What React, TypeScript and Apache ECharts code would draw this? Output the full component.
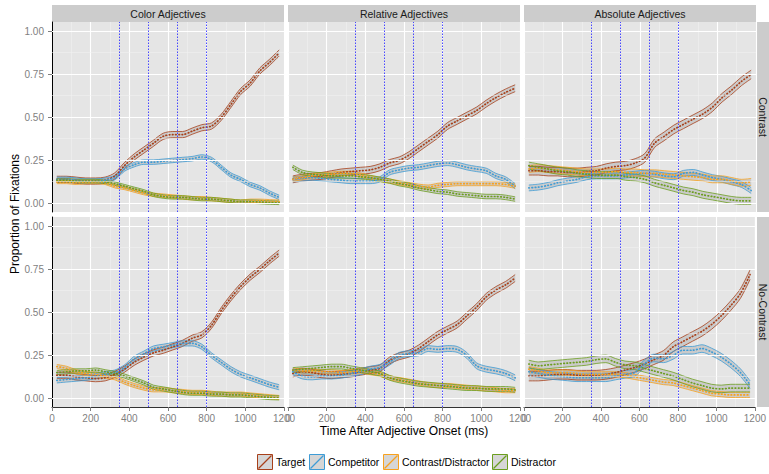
import React, { useEffect, useRef } from 'react';
import * as echarts from 'echarts';

const TIME = [25, 75, 125, 175, 225, 275, 325, 375, 425, 475, 525, 575, 625, 675, 725, 775, 825, 875, 925, 975, 1025, 1075, 1125, 1175];
const GROUPS = ['Target', 'Competitor', 'Contrast/Distractor', 'Distractor'];
const COLORS = ['#A8401A', '#3E9CD6', '#F8A21E', '#6C9E1F'];
const ADJECTIVES = ['Color Adjectives', 'Relative Adjectives', 'Absolute Adjectives'];
const CONDITIONS = ['Contrast', 'No-Contrast'];
const Y_TICKS = [0, 0.25, 0.5, 0.75, 1];
const Y_MINOR = [0.125, 0.375, 0.625, 0.875];
const WINDOW_LINES = [350, 500, 650, 800];

// Color Adjectives / Contrast
const colorContrastTarget = [0.14, 0.14, 0.135, 0.13, 0.13, 0.135, 0.16, 0.22, 0.27, 0.31, 0.35, 0.39, 0.40, 0.40, 0.42, 0.44, 0.45, 0.50, 0.575, 0.65, 0.70, 0.77, 0.82, 0.875];
const colorContrastCompetitor = [0.14, 0.14, 0.135, 0.13, 0.13, 0.135, 0.15, 0.20, 0.225, 0.24, 0.24, 0.245, 0.25, 0.255, 0.26, 0.27, 0.255, 0.21, 0.165, 0.14, 0.11, 0.09, 0.06, 0.035];
const colorContrastContrastDistractor = [0.125, 0.125, 0.12, 0.125, 0.125, 0.12, 0.10, 0.09, 0.075, 0.06, 0.05, 0.045, 0.04, 0.035, 0.03, 0.03, 0.025, 0.02, 0.015, 0.01, 0.015, 0.015, 0.012, 0.01];
const colorContrastDistractor = [0.135, 0.135, 0.13, 0.13, 0.13, 0.125, 0.115, 0.10, 0.085, 0.07, 0.05, 0.04, 0.035, 0.035, 0.03, 0.025, 0.025, 0.02, 0.015, 0.01, 0.01, 0.008, 0.005, 0.003];
const colorContrastSE = [0.018, 0.013, 0.01, 0.01];

// Relative Adjectives / Contrast
const relativeContrastTarget = [0.14, 0.15, 0.155, 0.16, 0.17, 0.18, 0.185, 0.19, 0.195, 0.21, 0.235, 0.25, 0.28, 0.32, 0.36, 0.40, 0.45, 0.48, 0.51, 0.54, 0.58, 0.615, 0.645, 0.67];
const relativeContrastCompetitor = [0.14, 0.145, 0.15, 0.145, 0.14, 0.135, 0.13, 0.13, 0.13, 0.14, 0.18, 0.195, 0.205, 0.21, 0.22, 0.23, 0.235, 0.225, 0.21, 0.20, 0.19, 0.16, 0.14, 0.10];
const relativeContrastContrastDistractor = [0.14, 0.15, 0.16, 0.165, 0.17, 0.175, 0.175, 0.165, 0.15, 0.14, 0.13, 0.12, 0.11, 0.10, 0.095, 0.105, 0.11, 0.115, 0.115, 0.115, 0.115, 0.115, 0.11, 0.10];
const relativeContrastDistractor = [0.21, 0.18, 0.17, 0.165, 0.16, 0.16, 0.16, 0.155, 0.15, 0.14, 0.13, 0.115, 0.105, 0.09, 0.08, 0.07, 0.065, 0.055, 0.05, 0.045, 0.04, 0.04, 0.035, 0.025];
const relativeContrastSE = [0.02, 0.015, 0.012, 0.013];

// Absolute Adjectives / Contrast
const absoluteContrastTarget = [0.19, 0.19, 0.185, 0.185, 0.18, 0.18, 0.185, 0.19, 0.205, 0.215, 0.22, 0.235, 0.265, 0.35, 0.39, 0.43, 0.46, 0.49, 0.52, 0.56, 0.615, 0.66, 0.71, 0.75];
const absoluteContrastCompetitor = [0.09, 0.095, 0.105, 0.12, 0.13, 0.14, 0.155, 0.16, 0.16, 0.16, 0.165, 0.17, 0.175, 0.17, 0.16, 0.155, 0.175, 0.18, 0.165, 0.15, 0.14, 0.125, 0.11, 0.075];
const absoluteContrastContrastDistractor = [0.20, 0.205, 0.20, 0.195, 0.19, 0.185, 0.18, 0.18, 0.18, 0.185, 0.18, 0.18, 0.175, 0.175, 0.17, 0.165, 0.16, 0.155, 0.15, 0.14, 0.14, 0.13, 0.12, 0.125];
const absoluteContrastDistractor = [0.22, 0.21, 0.20, 0.19, 0.185, 0.175, 0.17, 0.165, 0.165, 0.165, 0.155, 0.15, 0.14, 0.12, 0.105, 0.09, 0.075, 0.065, 0.05, 0.04, 0.03, 0.02, 0.015, 0.015];
const absoluteContrastSE = [0.025, 0.017, 0.02, 0.02];

// Color Adjectives / No-Contrast
const colorNoContrastTarget = [0.135, 0.135, 0.125, 0.12, 0.115, 0.12, 0.14, 0.17, 0.21, 0.24, 0.265, 0.28, 0.30, 0.32, 0.35, 0.37, 0.425, 0.51, 0.585, 0.65, 0.705, 0.75, 0.80, 0.845];
const colorNoContrastCompetitor = [0.105, 0.11, 0.115, 0.12, 0.13, 0.14, 0.15, 0.18, 0.23, 0.26, 0.29, 0.30, 0.31, 0.32, 0.32, 0.30, 0.25, 0.21, 0.17, 0.14, 0.12, 0.10, 0.08, 0.065];
const colorNoContrastContrastDistractor = [0.185, 0.175, 0.155, 0.145, 0.14, 0.13, 0.12, 0.095, 0.075, 0.06, 0.05, 0.05, 0.045, 0.04, 0.035, 0.035, 0.03, 0.025, 0.025, 0.025, 0.02, 0.015, 0.01, 0.005];
const colorNoContrastDistractor = [0.15, 0.155, 0.16, 0.16, 0.165, 0.155, 0.145, 0.13, 0.11, 0.09, 0.065, 0.055, 0.045, 0.035, 0.03, 0.03, 0.025, 0.025, 0.02, 0.02, 0.015, 0.01, 0.005, 0.003];
const colorNoContrastSE = [0.018, 0.015, 0.012, 0.012];

// Relative Adjectives / No-Contrast
const relativeNoContrastTarget = [0.145, 0.155, 0.15, 0.14, 0.135, 0.14, 0.145, 0.155, 0.165, 0.175, 0.22, 0.245, 0.26, 0.29, 0.33, 0.37, 0.40, 0.43, 0.48, 0.53, 0.59, 0.63, 0.66, 0.70];
const relativeNoContrastCompetitor = [0.155, 0.13, 0.125, 0.13, 0.13, 0.135, 0.145, 0.155, 0.17, 0.18, 0.21, 0.25, 0.26, 0.265, 0.29, 0.285, 0.29, 0.285, 0.25, 0.19, 0.17, 0.16, 0.145, 0.12];
const relativeNoContrastContrastDistractor = [0.165, 0.16, 0.16, 0.155, 0.155, 0.15, 0.155, 0.16, 0.15, 0.14, 0.12, 0.11, 0.10, 0.09, 0.08, 0.075, 0.075, 0.07, 0.065, 0.06, 0.055, 0.05, 0.045, 0.045];
const relativeNoContrastDistractor = [0.165, 0.17, 0.175, 0.18, 0.185, 0.185, 0.175, 0.165, 0.155, 0.145, 0.12, 0.105, 0.095, 0.085, 0.08, 0.075, 0.07, 0.065, 0.06, 0.06, 0.055, 0.055, 0.055, 0.05];
const relativeNoContrastSE = [0.02, 0.017, 0.012, 0.014];

// Absolute Adjectives / No-Contrast
const absoluteNoContrastTarget = [0.13, 0.13, 0.135, 0.14, 0.14, 0.135, 0.135, 0.135, 0.14, 0.15, 0.165, 0.18, 0.20, 0.225, 0.25, 0.30, 0.33, 0.36, 0.39, 0.43, 0.48, 0.54, 0.61, 0.72];
const absoluteNoContrastCompetitor = [0.155, 0.145, 0.135, 0.13, 0.125, 0.12, 0.12, 0.12, 0.12, 0.13, 0.14, 0.15, 0.20, 0.235, 0.23, 0.25, 0.28, 0.28, 0.29, 0.27, 0.24, 0.20, 0.15, 0.08];
const absoluteNoContrastContrastDistractor = [0.17, 0.16, 0.15, 0.15, 0.15, 0.145, 0.14, 0.14, 0.14, 0.14, 0.135, 0.125, 0.115, 0.105, 0.095, 0.09, 0.075, 0.06, 0.045, 0.03, 0.025, 0.02, 0.02, 0.02];
const absoluteNoContrastDistractor = [0.20, 0.19, 0.195, 0.20, 0.205, 0.21, 0.215, 0.225, 0.23, 0.21, 0.195, 0.19, 0.175, 0.16, 0.145, 0.13, 0.11, 0.09, 0.075, 0.06, 0.055, 0.06, 0.06, 0.06];
const absoluteNoContrastSE = [0.028, 0.022, 0.015, 0.022];

const FONT = '"Liberation Sans", Arial, Helvetica, sans-serif';

export default function App() {
  const ref = useRef<HTMLDivElement>(null);

  useEffect(() => {
    if (!ref.current) return;
    const chart = echarts.init(ref.current, undefined, { renderer: 'svg' });

    const panels = [
      { adj: 0, cond: 0, means: [colorContrastTarget, colorContrastCompetitor, colorContrastContrastDistractor, colorContrastDistractor], se: colorContrastSE },
      { adj: 1, cond: 0, means: [relativeContrastTarget, relativeContrastCompetitor, relativeContrastContrastDistractor, relativeContrastDistractor], se: relativeContrastSE },
      { adj: 2, cond: 0, means: [absoluteContrastTarget, absoluteContrastCompetitor, absoluteContrastContrastDistractor, absoluteContrastDistractor], se: absoluteContrastSE },
      { adj: 0, cond: 1, means: [colorNoContrastTarget, colorNoContrastCompetitor, colorNoContrastContrastDistractor, colorNoContrastDistractor], se: colorNoContrastSE },
      { adj: 1, cond: 1, means: [relativeNoContrastTarget, relativeNoContrastCompetitor, relativeNoContrastContrastDistractor, relativeNoContrastDistractor], se: relativeNoContrastSE },
      { adj: 2, cond: 1, means: [absoluteNoContrastTarget, absoluteNoContrastCompetitor, absoluteNoContrastContrastDistractor, absoluteNoContrastDistractor], se: absoluteNoContrastSE },
    ];

    const LEFTS = [52, 288, 524];
    const TOPS = [22, 217];
    const W = 232;
    const H = 190;

    const grids: any[] = [];
    const xAxes: any[] = [];
    const yAxes: any[] = [];
    const series: any[] = [];
    const graphics: any[] = [];

    const windowLineStyle = { color: '#3535FF', width: 1, type: [1.5, 1.5], opacity: 0.9 };

    panels.forEach((panel, p) => {
      const col = panel.adj;
      const row = panel.cond;
      grids.push({
        left: LEFTS[col], top: TOPS[row], width: W, height: H,
        show: true, backgroundColor: '#E5E5E5', borderWidth: 0, containLabel: false,
      });
      xAxes.push({
        type: 'value', gridIndex: p, min: 0, max: 1200, interval: 200,
        axisLine: { show: row === 1, onZero: false, lineStyle: { color: '#333333', width: 1 } },
        axisTick: { show: row === 1, length: 4, lineStyle: { color: '#7F7F7F' } },
        axisLabel: {
          show: row === 1, color: '#7F7F7F', fontSize: 10, margin: 6, fontFamily: FONT,
          hideOverlap: false, showMinLabel: true, showMaxLabel: true,
          formatter: (v: number) => String(v),
        },
        splitLine: { show: true, lineStyle: { color: '#FFFFFF', width: 1.1 } },
        minorTick: { show: false, splitNumber: 2 },
        minorSplitLine: { show: true, lineStyle: { color: '#F2F2F2', width: 0.5 } },
      });
      yAxes.push({
        type: 'value', gridIndex: p, min: -0.05, max: 1.055,
        axisLine: { show: col === 0, onZero: false, lineStyle: { color: '#000000', width: 1 } },
        axisTick: { show: col === 0, length: 4, customValues: Y_TICKS, lineStyle: { color: '#7F7F7F' } },
        axisLabel: {
          show: col === 0, customValues: Y_TICKS, color: '#7F7F7F', fontSize: 10, margin: 8, fontFamily: FONT,
          formatter: (v: number) => v.toFixed(2),
        },
        splitLine: { show: false },
      });

      // horizontal grid lines
      series.push({
        type: 'line', xAxisIndex: p, yAxisIndex: p, data: [], silent: true, z: 1,
        markLine: {
          silent: true, symbol: ['none', 'none'], label: { show: false }, animation: false,
          data: [
            ...Y_MINOR.map((v) => ({ yAxis: v, lineStyle: { color: '#F2F2F2', width: 0.5, type: 'solid' } })),
            ...Y_TICKS.map((v) => ({ yAxis: v, lineStyle: { color: '#FFFFFF', width: 1.1, type: 'solid' } })),
          ],
        },
      });

      // ribbons: data stored as [value, time] so that stacking applies to the value (y) dimension
      panel.means.forEach((mean, g) => {
        const se = panel.se[g];
        const stack = `band_${p}_${g}`;
        series.push({
          type: 'line', xAxisIndex: p, yAxisIndex: p, stack, stackStrategy: 'all',
          encode: { x: 1, y: 0 },
          data: TIME.map((t, i) => [mean[i] - se, t]),
          symbol: 'none', showSymbol: false, smooth: 0.3, silent: true, z: 2,
          lineStyle: { color: COLORS[g], width: 0.8 },
        });
        series.push({
          type: 'line', xAxisIndex: p, yAxisIndex: p, stack, stackStrategy: 'all',
          encode: { x: 1, y: 0 },
          data: TIME.map((t) => [2 * se, t]),
          symbol: 'none', showSymbol: false, smooth: 0.3, silent: true, z: 2,
          lineStyle: { color: COLORS[g], width: 0.8 },
          areaStyle: { color: 'rgba(110,110,110,0.22)', opacity: 1 },
        });
      });
      panel.means.forEach((mean, g) => {
        series.push({
          type: 'line', xAxisIndex: p, yAxisIndex: p,
          data: TIME.map((t, i) => [t, mean[i]]),
          symbol: 'none', showSymbol: false, smooth: 0.3, silent: true, z: 3,
          lineStyle: { color: COLORS[g], width: 1.7, type: [0.6, 2.6], cap: 'round' },
        });
      });

      // window lines
      series.push({
        type: 'line', xAxisIndex: p, yAxisIndex: p, data: [], silent: true, z: 4,
        markLine: {
          silent: true, symbol: ['none', 'none'], label: { show: false }, animation: false,
          lineStyle: windowLineStyle,
          data: WINDOW_LINES.map((v) => ({ xAxis: v, lineStyle: windowLineStyle })),
        },
      });
    });

    // top strips
    ADJECTIVES.forEach((name, c) => {
      graphics.push({ type: 'rect', shape: { x: LEFTS[c], y: 5, width: W, height: 17 }, style: { fill: '#CCCCCC' }, silent: true });
      graphics.push({
        type: 'text', x: LEFTS[c] + W / 2, y: 13.5, silent: true,
        style: { text: name, fill: '#1A1A1A', fontSize: 10.5, fontFamily: FONT, align: 'center', verticalAlign: 'middle' },
      });
    });
    // right strips
    CONDITIONS.forEach((name, r) => {
      graphics.push({ type: 'rect', shape: { x: 757, y: TOPS[r], width: 12, height: H }, style: { fill: '#CCCCCC' }, silent: true });
      graphics.push({
        type: 'text', x: 763, y: TOPS[r] + H / 2, rotation: -Math.PI / 2, silent: true,
        style: { text: name, fill: '#1A1A1A', fontSize: 10.5, fontFamily: FONT, align: 'center', verticalAlign: 'middle' },
      });
    });
    // axis titles
    graphics.push({
      type: 'text', x: 15, y: 214, rotation: Math.PI / 2, silent: true,
      style: { text: 'Proportion of Fixations', fill: '#000000', fontSize: 12, fontFamily: FONT, align: 'center', verticalAlign: 'middle' },
    });
    graphics.push({
      type: 'text', x: 404, y: 431, silent: true,
      style: { text: 'Time After Adjective Onset (ms)', fill: '#000000', fontSize: 12, fontFamily: FONT, align: 'center', verticalAlign: 'middle' },
    });
    // legend
    const iconX = [257, 309, 383, 492];
    GROUPS.forEach((name, g) => {
      const x = iconX[g];
      graphics.push({ type: 'rect', shape: { x: x + 0.5, y: 454.5, width: 15, height: 15 }, style: { fill: '#D6D6D6', stroke: COLORS[g], lineWidth: 1 }, silent: true });
      graphics.push({ type: 'line', shape: { x1: x + 1.5, y1: 468.5, x2: x + 14.5, y2: 455.5 }, style: { stroke: COLORS[g], lineWidth: 1.2 }, silent: true });
      graphics.push({
        type: 'text', x: x + 19, y: 462, silent: true,
        style: { text: name, fill: '#000000', fontSize: 10.5, fontFamily: FONT, align: 'left', verticalAlign: 'middle' },
      });
    });

    chart.setOption({
      animation: false,
      backgroundColor: '#FFFFFF',
      grid: grids,
      xAxis: xAxes,
      yAxis: yAxes,
      series,
      graphic: graphics,
    });

    return () => chart.dispose();
  }, []);

  return <div ref={ref} style={{ position: 'fixed', left: 0, top: 0, width: 769, height: 474 }} />;
}
